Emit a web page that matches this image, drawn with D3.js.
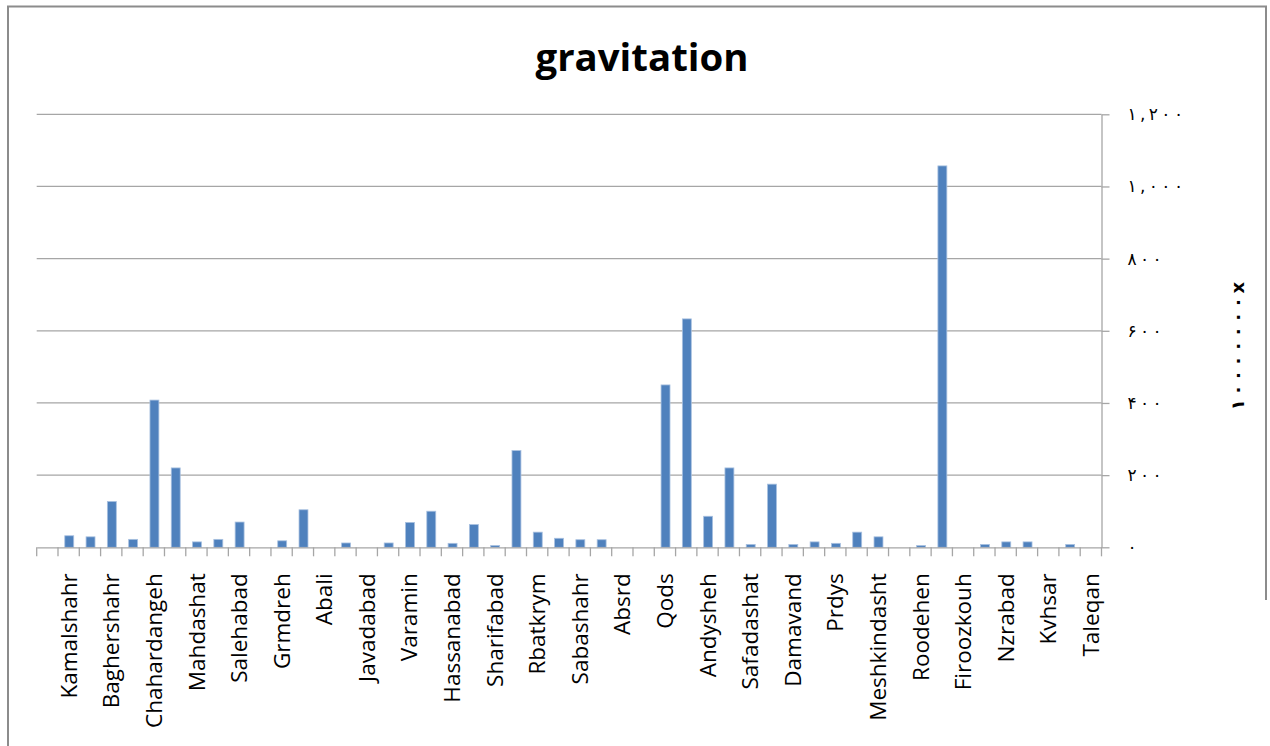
<!DOCTYPE html>
<html>
<head>
<meta charset="utf-8">
<script src="https://cdn.jsdelivr.net/npm/d3@7"></script>
<style>
  html, body { margin: 0; padding: 0; background: #fff; }
  svg { display: block; }
</style>
</head>
<body>
<svg id="chart" width="1270" height="746"></svg>
<script>
// ---- data ----
const chartTitle = "gravitation";
// 50 categories; only every second one is labelled on the axis (others unknown)
const categories = [
  null, "Kamalshahr", null, "Baghershahr", null, "Chahardangeh", null, "Mahdashat", null, "Salehabad",
  null, "Grmdreh", null, "Abali", null, "Javadabad", null, "Varamin", null, "Hassanabad",
  null, "Sharifabad", null, "Rbatkrym", null, "Sabashahr", null, "Absrd", null, "Qods",
  null, "Andysheh", null, "Safadashat", null, "Damavand", null, "Prdys", null, "Meshkindasht",
  null, "Roodehen", null, "Firoozkouh", null, "Nzrabad", null, "Kvhsar", null, "Taleqan"
];
const values = [
  0, 32, 29, 127, 22, 408, 220, 15, 22, 70,
  0, 18, 104, 0, 12, 0, 12, 69, 100, 11,
  63, 5, 268, 42, 25, 21, 21, 0, 0, 450,
  633, 86, 220, 8, 175, 8, 15, 11, 42, 29,
  0, 5, 1057, 0, 8, 15, 15, 0, 8, 0
];
const yTicks = [0, 200, 400, 600, 800, 1000, 1200];
const yAxisTitle = "\u06F1\u06F0\u06F0\u06F0\u06F0\u06F0\u06F0\u06F0x";

// ---- helpers ----
const persianDigits = "\u06F0\u06F1\u06F2\u06F3\u06F4\u06F5\u06F6\u06F7\u06F8\u06F9";
const toPersian = s => s.replace(/[0-9]/g, d => persianDigits[+d]);
const spaced = s => Array.from(s).join("\u2009");
const fmt = v => spaced(toPersian(d3.format(",")(v)));

// ---- layout ----
const svg = d3.select("#chart");
const plot = { left: 36.7, right: 1101.5, top: 114.3, bottom: 547.3 };

const x = d3.scaleBand()
  .domain(d3.range(categories.length))
  .range([plot.left, plot.right])
  .padding(0);
const y = d3.scaleLinear().domain([0, 1200]).range([plot.bottom, plot.top]);

// chart border
svg.append("path")
  .attr("d", "M8,746 L8,6.5 L1266,6.5 L1266,600")
  .attr("fill", "none").attr("stroke", "#8c8c8c").attr("stroke-width", 2);

// title
svg.append("text")
  .attr("x", 642).attr("y", 71)
  .attr("text-anchor", "middle")
  .attr("font-family", "Open Sans, Lato, sans-serif")
  .attr("font-weight", "bold")
  .attr("font-size", 38)
  .attr("textLength", 213).attr("lengthAdjust", "spacingAndGlyphs")
  .attr("fill", "#000")
  .text(chartTitle);

// gridlines
svg.append("g").selectAll("line")
  .data(yTicks.filter(t => t > 0))
  .join("line")
  .attr("x1", plot.left).attr("x2", plot.right)
  .attr("y1", d => y(d)).attr("y2", d => y(d))
  .attr("stroke", "#a6a6a6").attr("stroke-width", 1.3);

// bars
const barW = x.bandwidth() * 0.42;
svg.append("g").selectAll("rect")
  .data(values.map((v, i) => ({ v, i })))
  .join("rect")
  .attr("x", d => x(d.i) + (x.bandwidth() - barW) / 2 + 0.6)
  .attr("width", barW)
  .attr("y", d => y(d.v))
  .attr("height", d => y(0) - y(d.v))
  .attr("fill", "#4f81bd")
  .attr("stroke", "#a9c1e0")
  .attr("stroke-width", d => d.v > 0 ? 0.8 : 0);

// x axis (categories) with ticks at boundaries
const xAxis = d3.axisBottom(x)
  .tickSize(0)
  .tickFormat(i => categories[i] || "");
const gx = svg.append("g")
  .attr("transform", `translate(0,${plot.bottom})`)
  .call(xAxis);
gx.select(".domain").attr("stroke", "#a6a6a6").attr("stroke-width", 1.3);
gx.selectAll(".tick text")
  .attr("transform", "rotate(-90)")
  .attr("x", -26).attr("y", 0).attr("dy", "0.36em")
  .attr("text-anchor", "end")
  .attr("font-family", "Open Sans, Lato, sans-serif")
  .attr("font-size", 22.5)
  .attr("fill", "#000");
// boundary tick marks
svg.append("g").selectAll("line")
  .data(d3.range(categories.length + 1))
  .join("line")
  .attr("x1", i => i < categories.length ? x(i) : x(categories.length - 1) + x.bandwidth())
  .attr("x2", i => i < categories.length ? x(i) : x(categories.length - 1) + x.bandwidth())
  .attr("y1", plot.bottom).attr("y2", plot.bottom + 9)
  .attr("stroke", "#a6a6a6").attr("stroke-width", 1.3);

// y axis on the right
const yAxis = d3.axisRight(y).tickValues(yTicks).tickSize(8).tickSizeOuter(0).tickFormat(fmt);
const gy = svg.append("g")
  .attr("transform", `translate(${plot.right},0)`)
  .call(yAxis);
gy.select(".domain").attr("stroke", "#a6a6a6").attr("stroke-width", 1.3);
gy.selectAll(".tick line").attr("stroke", "#a6a6a6").attr("stroke-width", 1.3);
gy.selectAll(".tick text")
  .attr("x", 26)
  .attr("font-family", "DejaVu Sans, sans-serif")
  .attr("font-size", 17)
  .attr("fill", "#000");

// y axis title
svg.append("text")
  .attr("transform", "translate(1237,346) rotate(-90)")
  .attr("text-anchor", "middle")
  .attr("dominant-baseline", "central")
  .attr("font-family", "DejaVu Sans, sans-serif")
  .attr("font-weight", "bold")
  .attr("font-size", 18)
  .attr("fill", "#000")
  .text(spaced(yAxisTitle));
</script>
</body>
</html>
